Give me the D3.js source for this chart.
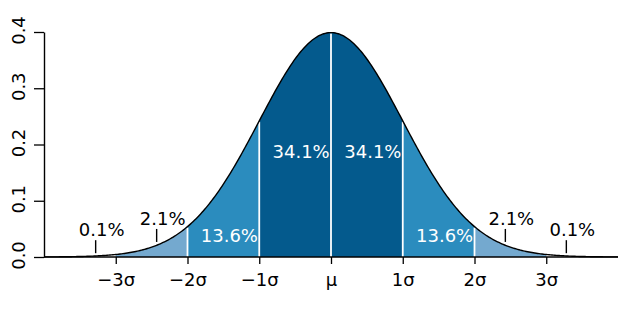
<!DOCTYPE html>
<html><head><meta charset="utf-8">
<script src="https://cdn.jsdelivr.net/npm/d3@7"></script>
<style>
html,body{margin:0;padding:0;background:#fff;}
text{font-family:"DejaVu Sans",sans-serif;}
</style></head>
<body>
<svg id="chart" width="624" height="312"></svg>
<script>
// ---- data ----
const mu = 0, sigma = 1;
const xDomain = [-4, 4];
const yTicks = [0, 0.1, 0.2, 0.3, 0.4];
const yTickLabels = ["0.0", "0.1", "0.2", "0.3", "0.4"];
const sigmaTicks = [-3, -2, -1, 0, 1, 2, 3];
const sigmaLabels = ["\u22123\u03c3", "\u22122\u03c3", "\u22121\u03c3", "\u03bc", "1\u03c3", "2\u03c3", "3\u03c3"];
const bandStart = [-3, -2, -1, 0, 1, 2];
const bandEnd = [-2, -1, 0, 1, 2, 3];
const bandShade = [0, 1, 2, 2, 1, 0];
const pctLabels = ["0.1%", "2.1%", "13.6%", "34.1%", "34.1%", "13.6%", "2.1%", "0.1%"];
const pctX = [-3.28, -2.43, -1.5, -0.5, 0.5, 1.5, 2.43, 3.28];
const pctY = [0.037, 0.057, 0.027, 0.176, 0.176, 0.027, 0.057, 0.037];
const pctWhite = [false, false, true, true, true, true, false, false];
const pctPointer = [true, true, false, false, false, false, true, true];
const dividers = [-2, -1, 0, 1, 2];

// ---- style ----
const shades = ["#74a9cf", "#2b8cbe", "#045a8d"];

const svg = d3.select("#chart");
const x = d3.scaleLinear().domain(xDomain).range([44, 618]);
const y = d3.scaleLinear().domain([0, 0.4]).range([257, 32]);

const pdf = v => Math.exp(-0.5 * ((v - mu) / sigma) ** 2) / (sigma * Math.sqrt(2 * Math.PI));
const samples = (a, b, n) => d3.range(n + 1).map(i => a + (b - a) * i / n);

const area = d3.area().x(d => x(d)).y0(y(0)).y1(d => y(pdf(d)));
bandStart.forEach((s, i) => {
  svg.append("path").attr("d", area(samples(s, bandEnd[i], 80)))
    .attr("fill", shades[bandShade[i]]);
});

// white dividers
svg.selectAll(".div").data(dividers).enter().append("line")
  .attr("x1", d => x(d)).attr("x2", d => x(d))
  .attr("y1", y(0)).attr("y2", d => y(pdf(d)) + 1)
  .attr("stroke", "#fff").attr("stroke-width", 1.8);

// curve
const line = d3.line().x(d => x(d)).y(d => y(pdf(d)));
svg.append("path").attr("d", line(samples(xDomain[0], xDomain[1], 400)))
  .attr("fill", "none").attr("stroke", "#000").attr("stroke-width", 1.4);

// axes
const xAxis = d3.axisBottom(x).tickValues(sigmaTicks)
  .tickFormat((d, i) => sigmaLabels[i]).tickSize(7).tickPadding(9).tickSizeOuter(0);
const gx = svg.append("g").attr("transform", `translate(0,${y(0)})`).call(xAxis);
gx.select(".domain").attr("d", `M${x(xDomain[0])},0H${x(xDomain[1])}`).attr("stroke-width", 1.4);
gx.selectAll(".tick line").attr("stroke-width", 1.3);
gx.selectAll("text").attr("font-size", 18).attr("font-family", "DejaVu Sans").attr("fill", "#000");

const yAxis = d3.axisLeft(y).tickValues(yTicks)
  .tickFormat((d, i) => yTickLabels[i]).tickSize(10).tickSizeOuter(0);
const gy = svg.append("g").attr("transform", `translate(${x(xDomain[0])},0)`).call(yAxis);
gy.select(".domain").attr("stroke-width", 1.4);
gy.selectAll(".tick line").attr("stroke-width", 1.3);
gy.selectAll("text").attr("font-size", 18).attr("font-family", "DejaVu Sans").attr("fill", "#000")
  .attr("text-anchor", "middle").attr("x", null).attr("dy", null)
  .attr("transform", "translate(-19,-2) rotate(-90)");

// percentage labels
pctLabels.forEach((t, i) => {
  const px = x(pctX[i]), py = y(pctY[i]);
  svg.append("text").attr("x", px + 6).attr("y", py)
    .attr("text-anchor", "middle").attr("font-size", 18)
    .attr("fill", pctWhite[i] ? "#fff" : "#000").text(t);
  if (pctPointer[i]) {
    svg.append("line").attr("x1", px).attr("x2", px)
      .attr("y1", py + 4).attr("y2", py + 17)
      .attr("stroke", "#000").attr("stroke-width", 1.4);
  }
});
</script>
</body></html>
